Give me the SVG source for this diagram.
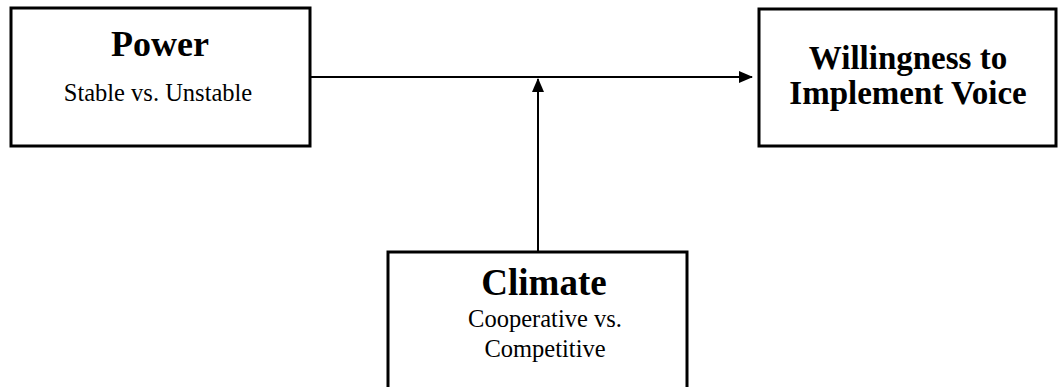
<svg xmlns="http://www.w3.org/2000/svg" width="1058" height="387" viewBox="0 0 1058 387">
<style>
.box{fill:#fff;stroke:#000;stroke-width:3}
.t{font-family:"Liberation Serif","Times New Roman",serif;fill:#000;text-anchor:middle}
.h{font-weight:bold}
.c{stroke:#000;stroke-width:2;fill:none}
</style>
<defs>
<marker id="ah" markerWidth="14" markerHeight="14" refX="13" refY="7" orient="auto" markerUnits="userSpaceOnUse">
<path d="M0,1 L14,7 L0,13 Z" fill="#000"/>
</marker>
</defs>
<rect width="1058" height="387" fill="#fff"/>
<g id="connectors">
<line class="c" x1="310" y1="77" x2="752" y2="77" marker-end="url(#ah)"/>
<line class="c" x1="538" y1="251" x2="538" y2="79" marker-end="url(#ah)"/>
</g>
<g id="power">
<rect class="box" x="11" y="8" width="299" height="138"/>
<text class="t h" x="160" y="56" font-size="36">Power</text>
<text class="t" x="158" y="101" font-size="24.5">Stable vs. Unstable</text>
</g>
<g id="willingness">
<rect class="box" x="759" y="9" width="297" height="137"/>
<text class="t h" x="908" y="69" font-size="33">Willingness to</text>
<text class="t h" x="908" y="104" font-size="33">Implement Voice</text>
</g>
<g id="climate">
<rect class="box" x="388" y="252" width="299" height="140"/>
<text class="t h" x="544" y="295" font-size="37">Climate</text>
<text class="t" x="545" y="327" font-size="24.5">Cooperative vs.</text>
<text class="t" x="545" y="357" font-size="24.5">Competitive</text>
</g>
</svg>
